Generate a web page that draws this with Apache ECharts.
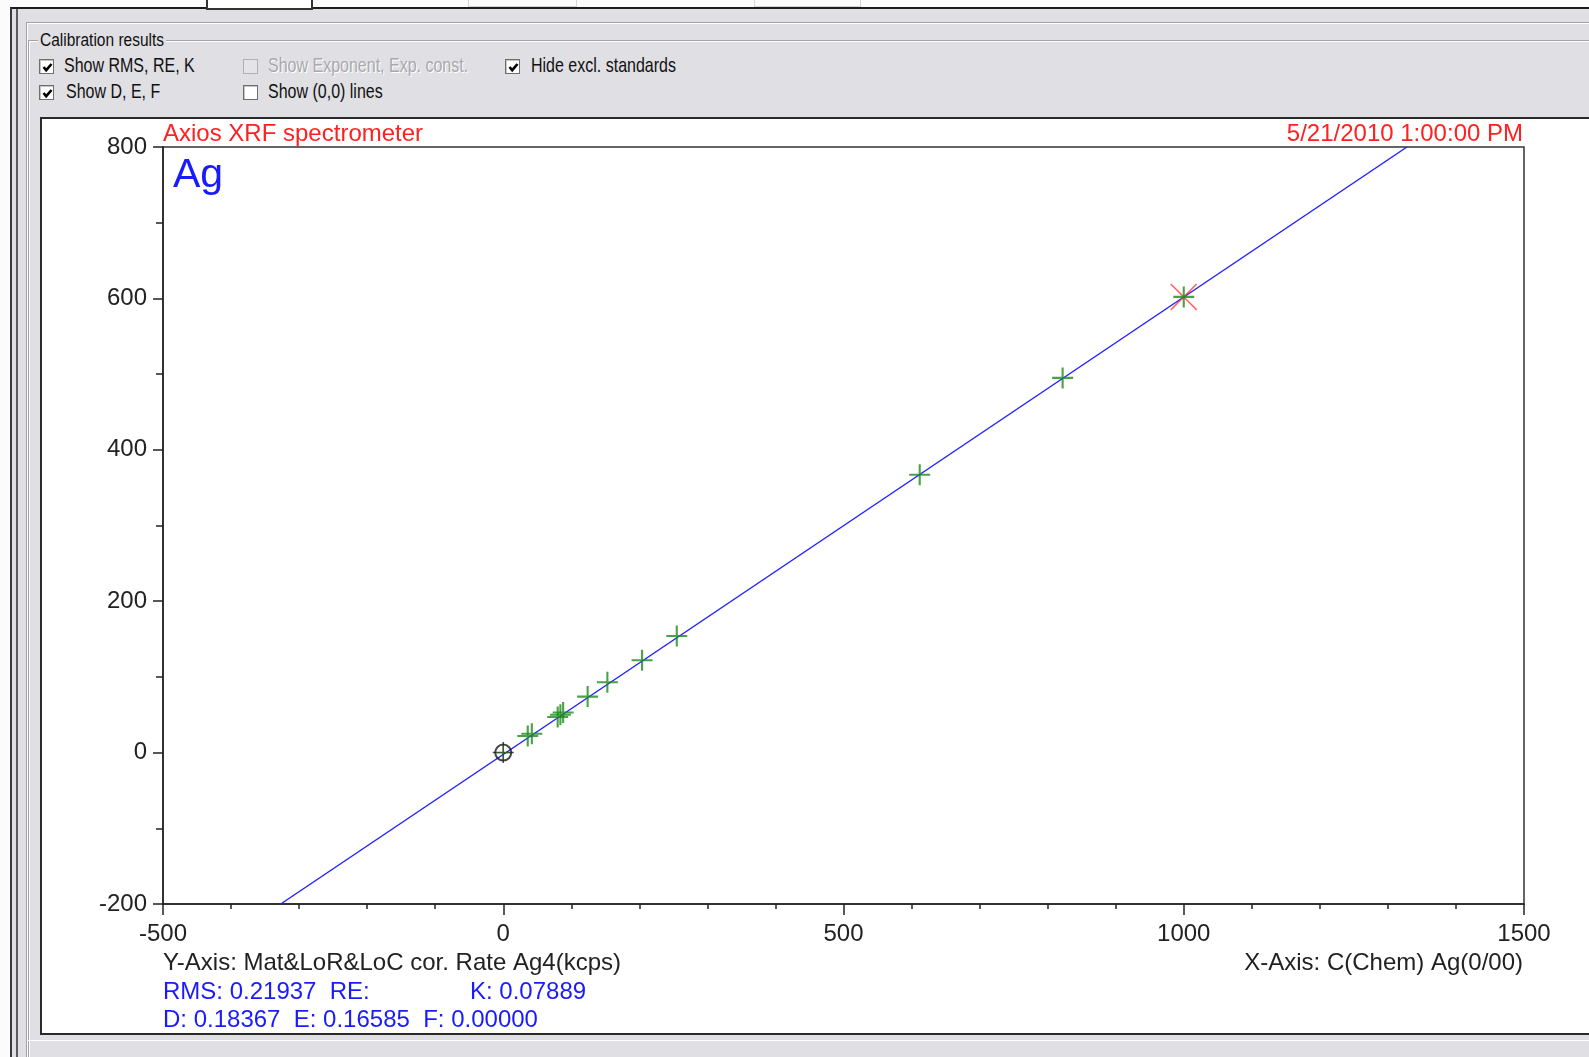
<!DOCTYPE html>
<html>
<head>
<meta charset="utf-8">
<title>Calibration results - Ag</title>
<script src="https://cdn.jsdelivr.net/npm/echarts@6.0.0/dist/echarts.min.js"></script>
<style>
  html, body { margin:0; padding:0; }
  body { width:1589px; height:1057px; overflow:hidden; position:relative; background:#fbfbfb;
         font-family:"Liberation Sans", Arial, sans-serif; }
  .a { position:absolute; }
  .gui { font-size:16px; line-height:18px; color:#111; white-space:nowrap; transform:scaleY(1.22); transform-origin:0 50%; }
  .cb { width:15px; height:15px; background:#fff; border:1px solid #6e6e6e;
        box-shadow: inset 1px 1px 0 #c4c4c4; box-sizing:border-box; }
  .cb.dis { background:#e4e3e7; border-color:#b0b0b4; box-shadow:none; }
  .cb svg { position:absolute; left:1px; top:1px; }
</style>
</head>
<body>
<!-- window frame -->
<div class="a" style="left:10px;top:7px;width:1579px;height:1050px;background:#e0dfe3;border-top:2px solid #1c1c1c;border-left:2px solid #3a3a3a;box-sizing:border-box;"></div>
<div class="a" style="left:16px;top:9px;width:2px;height:1048px;background:#5c5c5c;"></div>
<div class="a" style="left:26px;top:22px;width:1px;height:1035px;background:#a3a3a7;"></div>
<div class="a" style="left:27px;top:23px;width:1px;height:1034px;background:#ffffff;"></div>
<div class="a" style="left:26px;top:22px;width:1563px;height:1px;background:#a3a3a7;"></div>
<div class="a" style="left:27px;top:23px;width:1562px;height:1px;background:#ffffff;"></div>
<!-- tabs at very top -->
<div class="a" style="left:206px;top:-3px;width:107px;height:13px;background:#fff;border:2px solid #333;box-sizing:border-box;"></div>
<div class="a" style="left:468px;top:-2px;width:109px;height:9px;border:1px solid #d6d6d6;border-top:none;box-sizing:border-box;"></div>
<div class="a" style="left:754px;top:-2px;width:107px;height:9px;border:1px solid #d6d6d6;border-top:none;box-sizing:border-box;"></div>
<!-- group box -->
<div class="a" style="left:28px;top:40px;width:1561px;height:1px;background:#a3a3a7;"></div>
<div class="a" style="left:29px;top:41px;width:1560px;height:1px;background:#ffffff;"></div>
<div class="a" style="left:28px;top:40px;width:1px;height:1017px;background:#a3a3a7;"></div>
<div class="a" style="left:29px;top:41px;width:1px;height:1016px;background:#ffffff;"></div>
<div class="a gui" id="grpTitle" style="left:38px;top:31px;background:#e0dfe3;padding:0 2px;font-size:15.5px;"></div>

<div id="checks"></div>

<!-- plot panel -->
<div class="a" style="left:40px;top:117px;width:1560px;height:918px;background:#fff;border-top:2px solid #2a2a2a;border-left:2px solid #2a2a2a;border-bottom:2px solid #2a2a2a;box-sizing:border-box;"></div>
<div class="a" style="left:28px;top:1040px;width:1561px;height:1px;background:#ffffff;"></div>
<div id="chart" class="a" style="left:42px;top:119px;width:1547px;height:914px;"></div>

<script>
// ---------------- data ----------------
const groupTitle = "Calibration results";
const checkLabels  = ["Show RMS, RE, K", "Show D, E, F", "Show Exponent, Exp. const.", "Show (0,0) lines", "Hide excl. standards"];
const checkStates  = [true, true, false, false, true];
const checkEnabled = [true, true, false, true, true];

const chartTitle   = "Axios XRF spectrometer";
const dateText     = "5/21/2010 1:00:00 PM";
const elementName  = "Ag";
const yAxisTitle   = "Y-Axis: Mat&LoR&LoC cor. Rate Ag4(kcps)";
const xAxisTitle   = "X-Axis: C(Chem) Ag(0/00)";
const statsRow1a   = "RMS: 0.21937  RE:";
const statsRow1b   = "K: 0.07889";
const statsRow2    = "D: 0.18367  E: 0.16585  F: 0.00000";

const xTickLabels  = [-500, 0, 500, 1000, 1500];
const yTickLabels  = [-200, 0, 200, 400, 600, 800];

// calibration line end points (read where the line meets the plot frame)
const calLineX = [-327, 1328];
const calLineY = [-200, 800];

// standards: concentration (x) vs corrected rate (y)
const stdX = [36, 42, 80, 84, 88, 124, 153, 204, 255, 612, 822, 1000];
const stdY = [22, 25, 47, 50, 53, 74, 93, 122, 154, 367, 495, 602];

// highlighted (red X) standard
const selX = [1000];
const selY = [602];

// origin point
const originX = [0];
const originY = [0];

// ---------------- GUI checkboxes ----------------
document.getElementById('grpTitle').textContent = groupTitle;
const checkPos = [[39, 59, 64], [39, 85, 66], [243, 59, 268], [243, 85, 268], [505, 59, 531]];
const checksEl = document.getElementById('checks');
checkLabels.forEach((lbl, i) => {
  const [bx, by, tx] = checkPos[i];
  const box = document.createElement('div');
  box.className = 'a cb' + (checkEnabled[i] ? '' : ' dis');
  box.style.left = bx + 'px'; box.style.top = by + 'px';
  if (checkStates[i]) {
    box.innerHTML = '<svg width="13" height="13" viewBox="0 0 13 13"><polyline points="2.5,6 5.2,9.2 10.5,3" fill="none" stroke="#000" stroke-width="2.6"/></svg>';
  }
  checksEl.appendChild(box);
  const t = document.createElement('div');
  t.className = 'a gui';
  t.style.left = tx + 'px'; t.style.top = (by - 2) + 'px';
  if (!checkEnabled[i]) { t.style.color = '#a9a9ad'; t.style.textShadow = '1px 1px 0 #fff'; }
  t.textContent = lbl;
  checksEl.appendChild(t);
});

// ---------------- chart ----------------
const zip = (xs, ys) => xs.map((x, i) => [x, ys[i]]);
const FONT = '"Liberation Sans", Arial, sans-serif';
const plusPath = 'path://M-1,-10L1,-10L1,-1L10,-1L10,1L1,1L1,10L-1,10L-1,1L-10,1L-10,-1L-1,-1Z';
const thinPlusPath = 'path://M-0.7,-10L0.7,-10L0.7,-0.7L10,-0.7L10,0.7L0.7,0.7L0.7,10L-0.7,10L-0.7,0.7L-10,0.7L-10,-0.7L-0.7,-0.7Z';
const xPath = 'path://M-13,-12L-12,-13L0,-1L12,-13L13,-12L1,0L13,12L12,13L0,1L-12,13L-13,12L-1,0Z';

const chart = echarts.init(document.getElementById('chart'), null, { renderer: 'canvas' });
const axisCommon = {
  type: 'value',
  splitLine: { show: false },
  axisLine: { show: true, onZero: false, lineStyle: { color: '#222', width: 1.5 } },
  axisLabel: { color: '#222', fontSize: 24, fontFamily: FONT, showMinLabel: true, showMaxLabel: true,
               formatter: v => String(v) },
};
chart.setOption({
  animation: false,
  backgroundColor: '#ffffff',
  grid: { left: 121, top: 28, width: 1361, height: 757, show: true, borderColor: '#333', borderWidth: 1.5,
          backgroundColor: 'transparent', containLabel: false, outerBoundsMode: 'none' },
  xAxis: Object.assign({}, axisCommon, {
    min: xTickLabels[0], max: xTickLabels[xTickLabels.length - 1],
    interval: xTickLabels[1] - xTickLabels[0],
    axisTick: { show: true, inside: false, length: 11, lineStyle: { color: '#222', width: 1.5 } },
    minorTick: { show: true, splitNumber: 5, length: 5, lineStyle: { color: '#222', width: 1.5 } },
    axisLabel: Object.assign({}, axisCommon.axisLabel, { margin: 18 })
  }),
  yAxis: Object.assign({}, axisCommon, {
    min: yTickLabels[0], max: yTickLabels[yTickLabels.length - 1],
    interval: yTickLabels[1] - yTickLabels[0],
    axisTick: { show: true, inside: false, length: 10, lineStyle: { color: '#222', width: 1.5 } },
    minorTick: { show: true, splitNumber: 2, length: 7, lineStyle: { color: '#222', width: 1.5 } },
    axisLabel: Object.assign({}, axisCommon.axisLabel, { margin: 16 })
  }),
  graphic: [
    { type: 'text', left: 121, top: 3, style: { text: chartTitle, font: '24px ' + FONT, fill: '#ff2020' } },
    { type: 'text', right: 66, top: 3, style: { text: dateText, font: '24px ' + FONT, fill: '#ff2020' } },
    { type: 'text', left: 131, top: 36, style: { text: elementName, font: '41px ' + FONT, fill: '#1a1aff' } },
    { type: 'text', left: 121, top: 832, style: { text: yAxisTitle, font: '24px ' + FONT, fill: '#222' } },
    { type: 'text', right: 66, top: 832, style: { text: xAxisTitle, font: '24px ' + FONT, fill: '#222' } },
    { type: 'text', left: 121, top: 861, style: { text: statsRow1a, font: '24px ' + FONT, fill: '#1a1aff' } },
    { type: 'text', left: 428, top: 861, style: { text: statsRow1b, font: '24px ' + FONT, fill: '#1a1aff' } },
    { type: 'text', left: 121, top: 889, style: { text: statsRow2, font: '24px ' + FONT, fill: '#1a1aff' } }
  ],
  series: [
    { name: 'Calibration line', type: 'line', data: zip(calLineX, calLineY), showSymbol: false, symbol: 'none',
      lineStyle: { color: '#2222ff', width: 1.5 }, z: 2, silent: true, clip: true },
    { name: 'Selected', type: 'scatter', data: zip(selX, selY), symbol: xPath, symbolSize: 27,
      itemStyle: { color: '#ff3a3a' }, z: 3, silent: true },
    { name: 'Standards', type: 'scatter', data: zip(stdX, stdY), symbol: plusPath, symbolSize: 21,
      itemStyle: { color: '#1c8a1c' }, z: 4, silent: true },
    { name: 'Origin ticks', type: 'scatter', data: zip(originX, originY), symbol: thinPlusPath, symbolSize: 21,
      itemStyle: { color: '#222' }, z: 5, silent: true },
    { name: 'Origin', type: 'scatter', data: zip(originX, originY), symbol: 'circle', symbolSize: 16,
      itemStyle: { color: 'rgba(255,255,255,0)', borderColor: '#1a1a1a', borderWidth: 2 }, z: 6, silent: true },
    { name: 'Origin std', type: 'scatter', data: zip(originX, originY), symbol: plusPath, symbolSize: 13,
      itemStyle: { color: '#2a6a2a' }, z: 7, silent: true }
  ]
});
</script>
</body>
</html>
